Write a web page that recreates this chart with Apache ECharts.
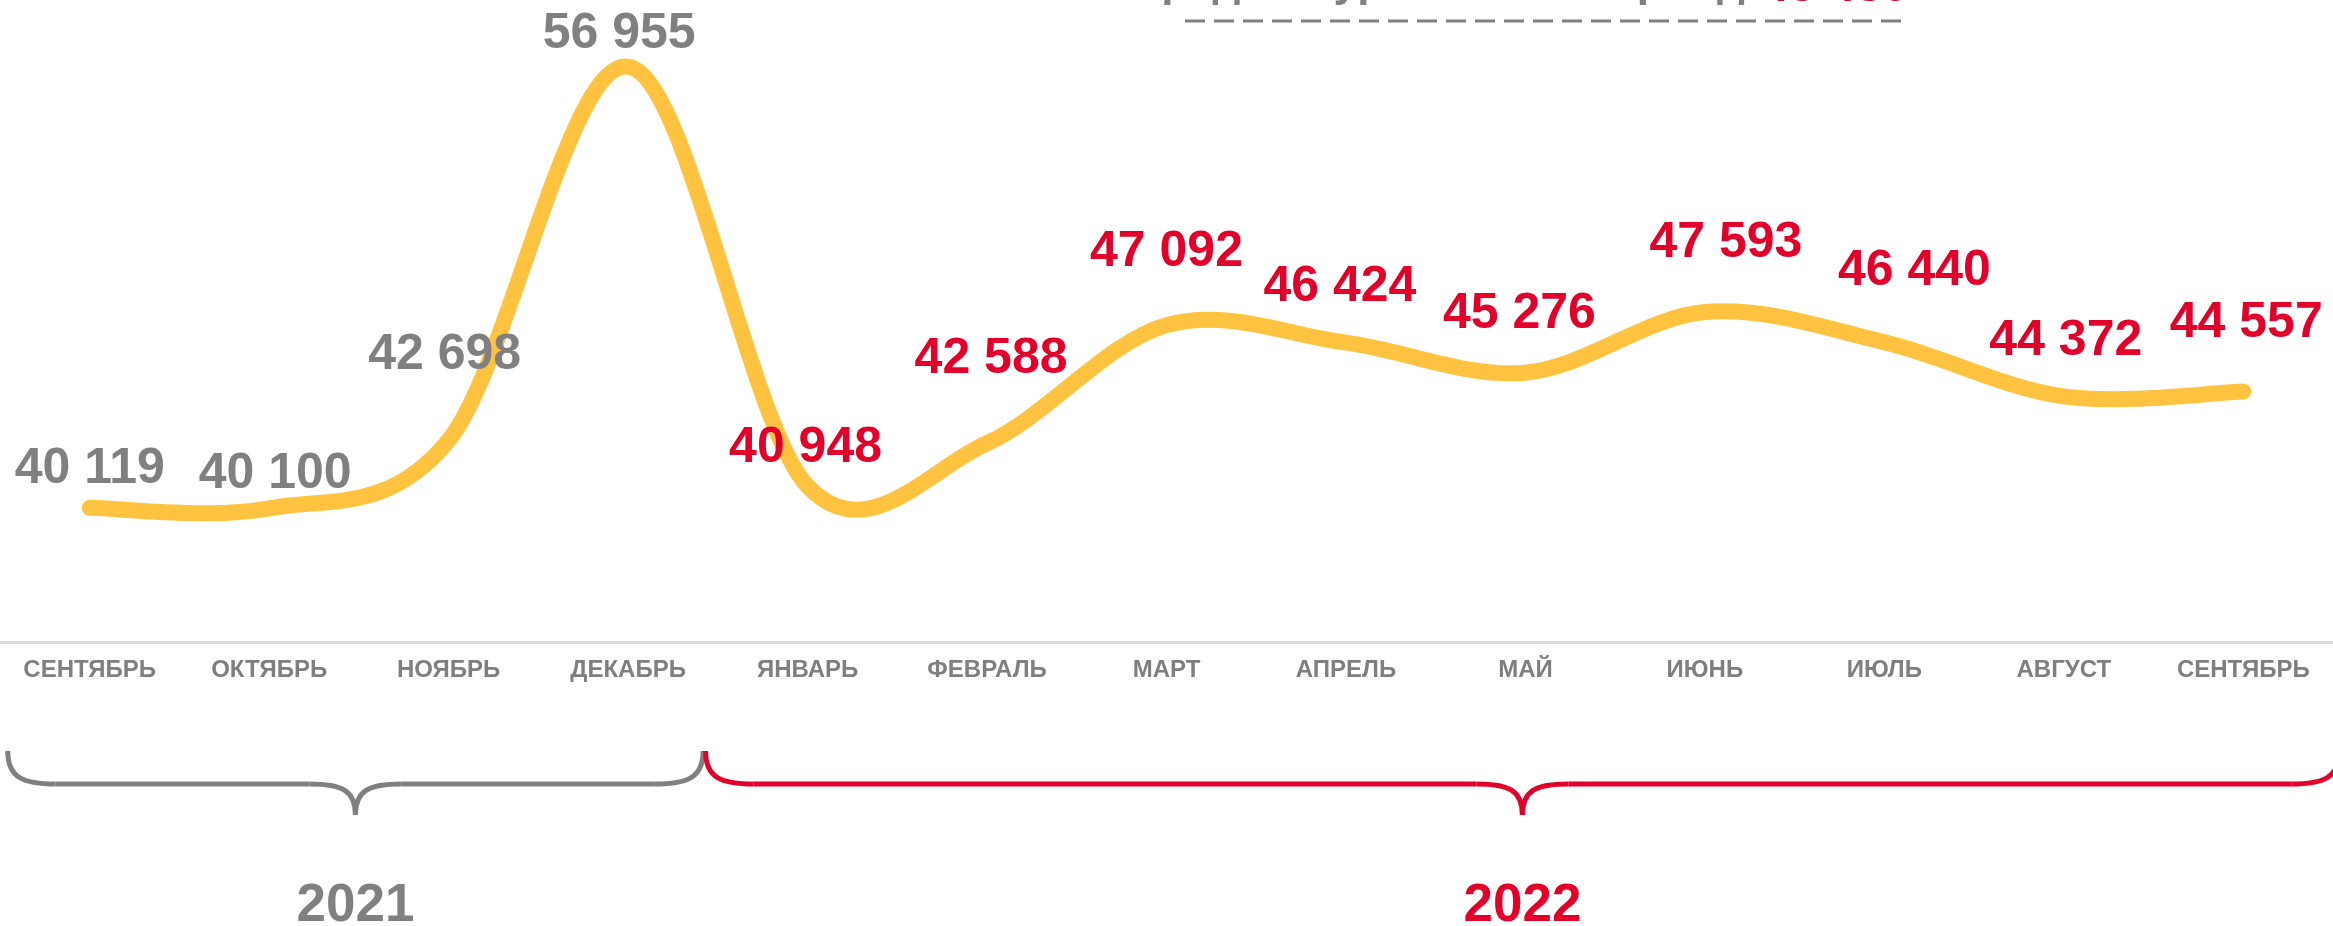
<!DOCTYPE html>
<html>
<head>
<meta charset="utf-8">
<script src="https://cdn.jsdelivr.net/npm/echarts@6/dist/echarts.min.js"></script>
<style>
  html, body { margin: 0; padding: 0; background: #fff; }
  #chart { width: 2333px; height: 926px; }
</style>
</head>
<body>
<div id="chart"></div>
<script>
// месяцы по оси X
const months = ["СЕНТЯБРЬ", "ОКТЯБРЬ", "НОЯБРЬ", "ДЕКАБРЬ", "ЯНВАРЬ", "ФЕВРАЛЬ", "МАРТ",
  "АПРЕЛЬ", "МАЙ", "ИЮНЬ", "ИЮЛЬ", "АВГУСТ", "СЕНТЯБРЬ"];
// значения
const values = [40119, 40100, 42698, 56955, 40948, 42588, 47092, 46424, 45276, 47593, 46440, 44372, 44557];
// год каждого месяца
const monthYear = ["2021", "2021", "2021", "2021", "2022", "2022", "2022", "2022", "2022", "2022", "2022", "2022", "2022"];
const years = ["2021", "2022"];
// верхняя подпись (обрезана краем картинки)
const topNote = "Средний уровень за период";
const topValue = "45 480";

const GRAY = "#808080";
const RED = "#e2002a";
const YELLOW = "#ffc33f";
const FONT = "'Liberation Sans', Arial, sans-serif";

// подъём подписей над точкой (px) и сдвиг по горизонтали - только оформление
const labelLift = [38, 34, 85, 32, 37, 83, 72, 55, 58, 68, 71, 55, 68];
const labelShift = [0, 6, -4, -9, -2, 4, 0, -6, -6, 21, 30, 2, 3];

const fmt = (v) => String(v).replace(/\B(?=(\d{3})+(?!\d))/g, " ");

// сглаживание как в Excel (Catmull-Rom -> кубические Безье)
const smoothPath = (pts) => {
  let d = "M" + pts[0][0] + " " + pts[0][1];
  for (let i = 0; i < pts.length - 1; i++) {
    const p0 = pts[Math.max(i - 1, 0)];
    const p1 = pts[i];
    const p2 = pts[i + 1];
    const p3 = pts[Math.min(i + 2, pts.length - 1)];
    const c1 = [p1[0] + (p2[0] - p0[0]) / 6, p1[1] + (p2[1] - p0[1]) / 6];
    const c2 = [p2[0] - (p3[0] - p1[0]) / 6, p2[1] - (p3[1] - p1[1]) / 6];
    d += " C" + c1[0] + " " + c1[1] + " " + c2[0] + " " + c2[1] + " " + p2[0] + " " + p2[1];
  }
  return d;
};

const myChart = echarts.init(document.getElementById("chart"));

myChart.setOption({
  animation: false,
  grid: { left: 0, right: 0, top: 0, bottom: 284 },
  xAxis: {
    type: "category",
    data: months,
    boundaryGap: true,
    axisLine: { lineStyle: { color: "#d9d9d9", width: 3 } },
    axisTick: { show: false },
    axisLabel: {
      color: "#7f7f7f",
      fontFamily: FONT,
      fontWeight: "bold",
      fontSize: 24,
      margin: 16,
      interval: 0,
    },
  },
  yAxis: {
    type: "value",
    min: 35000,
    max: 59500,
    show: false,
    splitLine: { show: false },
  },
  series: [
    {
      // сама кривая
      type: "custom",
      data: values.map((v, i) => [i, v]),
      encode: { x: 0, y: 1 },
      z: 2,
      renderItem: (params, api) => {
        if (params.dataIndex !== 0) return null;
        const pts = values.map((v, i) => api.coord([i, v]));
        return {
          type: "path",
          shape: { pathData: smoothPath(pts) },
          style: { fill: "none", stroke: YELLOW, lineWidth: 16, lineCap: "round", lineJoin: "round" },
        };
      },
    },
    {
      // подписи значений
      type: "line",
      z: 3,
      symbol: "circle",
      symbolSize: 1,
      itemStyle: { color: "rgba(0,0,0,0)" },
      lineStyle: { width: 0, opacity: 0 },
      data: values.map((v, i) => ({
        value: v,
        label: {
          color: monthYear[i] === years[0] ? GRAY : RED,
          offset: [labelShift[i], 25 - labelLift[i]],
        },
      })),
      label: {
        show: true,
        position: "top",
        distance: 0,
        fontFamily: FONT,
        fontWeight: "bold",
        fontSize: 50,
        lineHeight: 50,
        formatter: (p) => fmt(p.value),
      },
    },
  ],
});

// фигурные скобки под годами, по пикселям категорий
const px = (i) => myChart.convertToPixel({ xAxisIndex: 0 }, i);
const first22 = monthYear.indexOf(years[1]);

const brace = (x0, x1, yTop, yMid, yTip, color) => {
  const xm = (x0 + x1) / 2;
  const st = { stroke: color, lineWidth: 5, fill: null };
  const curve = (a, b, c, d) => ({
    type: "bezierCurve",
    shape: { x1: a[0], y1: a[1], cpx1: b[0], cpy1: b[1], cpx2: c[0], cpy2: c[1], x2: d[0], y2: d[1] },
    style: st,
  });
  const seg = (a, b) => ({
    type: "line",
    shape: { x1: a[0], y1: a[1], x2: b[0], y2: b[1] },
    style: st,
  });
  return [
    curve([x0, yTop], [x0, yMid - 6], [x0 + 16, yMid], [x0 + 48, yMid]),
    seg([x0 + 48, yMid], [xm - 46, yMid]),
    curve([xm - 46, yMid], [xm - 14, yMid], [xm, yMid + 6], [xm, yTip]),
    curve([xm, yTip], [xm, yMid + 6], [xm + 14, yMid], [xm + 46, yMid]),
    seg([xm + 46, yMid], [x1 - 48, yMid]),
    curve([x1 - 48, yMid], [x1 - 16, yMid], [x1, yMid - 6], [x1, yTop]),
  ];
};

const g0 = px(0) - 82, g1 = px(first22 - 1) + 75;
const r0 = px(first22) - 102, r1 = px(months.length - 1) + 96;

// y для verticalAlign middle, чтобы базовая линия шрифта попала в baseY
const mid = (baseY, size) => baseY - 0.35 * size;

myChart.setOption({
  graphic: [
    ...brace(g0, g1, 751, 784, 815, GRAY),
    ...brace(r0, r1, 751, 784, 815, RED),
    {
      type: "text",
      x: (g0 + g1) / 2,
      y: mid(925, 53),
      style: {
        text: years[0], fill: GRAY, font: "bold 53px " + FONT,
        align: "center", verticalAlign: "middle",
      },
    },
    {
      type: "text",
      x: (r0 + r1) / 2,
      y: mid(925, 53),
      style: {
        text: years[1], fill: RED, font: "bold 53px " + FONT,
        align: "center", verticalAlign: "middle",
      },
    },
    // обрезанная подпись сверху и пунктир
    {
      type: "text",
      x: 1745,
      y: mid(-1, 44),
      style: {
        text: topNote, fill: GRAY, font: "bold 44px " + FONT,
        align: "right", verticalAlign: "middle",
      },
    },
    {
      type: "text",
      x: 1762,
      y: mid(5, 48),
      style: {
        text: topValue, fill: RED, font: "bold 48px " + FONT,
        align: "left", verticalAlign: "middle",
      },
    },
    {
      type: "line",
      shape: { x1: 1185, y1: 21, x2: 1910, y2: 21 },
      style: { stroke: GRAY, lineWidth: 3, lineDash: [20, 9] },
    },
  ],
});
</script>
</body>
</html>
